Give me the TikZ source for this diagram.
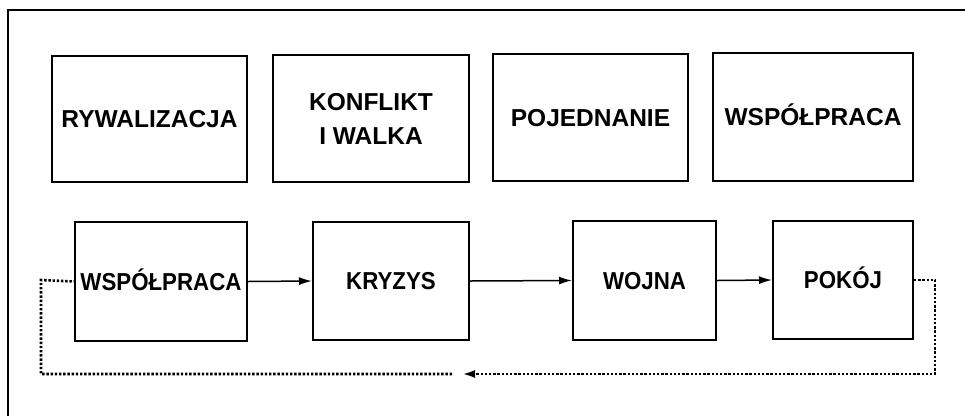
\documentclass[tikz,border=0pt]{standalone}
\usepackage{fontspec}
\usepackage{graphicx}
\setmainfont{Liberation Sans}
\usetikzlibrary{arrows.meta}
% lower-row captions are set slightly condensed
\newcommand{\condensed}[1]{\scalebox{0.91}[1]{#1}}
\begin{document}
\begin{tikzpicture}[x=1pt,y=-1pt,
  box/.style={draw, line width=2pt, inner sep=0pt},
  caption/.style={inner sep=0pt, align=center, text height=17.5pt, text depth=0pt,
    font=\fontsize{24.5}{34}\selectfont\bfseries},
  flow/.style={line width=1.5pt, -{Latex[length=13pt,width=8pt]}},
  loopline/.style={line width=2.6pt, dash pattern=on 2.4pt off 1.8pt}]
\useasboundingbox (0,0) rectangle (965,416);
% outer frame (only the top and left edges fall inside the page)
\draw[line width=2.4pt] (8,416) -- (8,10) -- (965,10);

% upper row
\node[box, minimum width=195pt, minimum height=126pt] (t1) at (149.5,119) {};
\node[box, minimum width=196pt, minimum height=127pt] (t2) at (371,118.5) {};
\node[box, minimum width=195pt, minimum height=127pt] (t3) at (590.5,117.5) {};
\node[box, minimum width=200pt, minimum height=128pt] (t4) at (813,117) {};
\node[caption] (t1txt) at (t1.center) {RYWALIZACJA};
\node[caption, text height=51.5pt] (t2txt) at (t2.center) {KONFLIKT\\I WALKA};
\node[caption] (t3txt) at (t3.center) {POJEDNANIE};
\node[caption] (t4txt) at (t4.center) {WSPÓŁPRACA};

% lower row: the cycle
\node[box, minimum width=172pt, minimum height=119pt] (b1) at (161,281.5) {};
\node[box, minimum width=156pt, minimum height=118pt] (b2) at (391,281) {};
\node[box, minimum width=143pt, minimum height=119pt] (b3) at (644.5,280.5) {};
\node[box, minimum width=140pt, minimum height=118pt] (b4) at (843,280) {};
\node[caption] (b1txt) at (b1.center) {\condensed{WSPÓŁPRACA}};
\node[caption] (b2txt) at (b2.center) {\condensed{KRYZYS}};
\node[caption] (b3txt) at (b3.center) {\condensed{WOJNA}};
\node[caption] (b4txt) at (b4.center) {\condensed{POKÓJ}};

\draw[flow] (b1.east) -- (b2.west);
\draw[flow] (b2.east) -- (b3.west);
\draw[flow] (b3.east) -- (b4.west);

% dotted return path
\coordinate (rt) at (935,280);
\coordinate (rb) at (935,374);
\coordinate (tip) at (462,374);
\coordinate (gap) at (452,374);
\coordinate (lb) at (41,374);
\coordinate (lt) at (41,280);
\draw[loopline, -{Latex[length=13pt,width=8pt]}] (b4.east) -- (rt) -- (rb) -- (tip);
\draw[loopline] (gap) -- (lb) -- (lt) -- (b1.west);
\end{tikzpicture}
\end{document}
